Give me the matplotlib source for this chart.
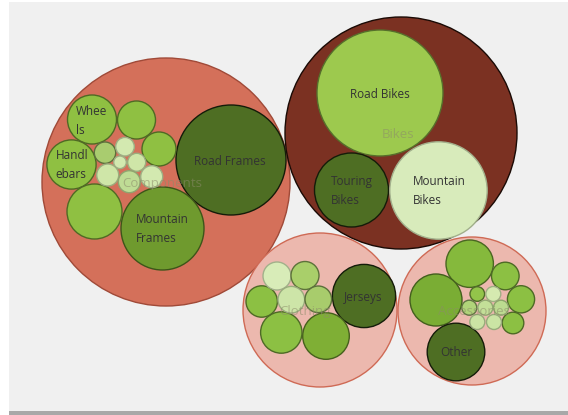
import matplotlib.pyplot as plt
import matplotlib.colors as mcolors
from matplotlib.patches import Circle, Rectangle

# parent circles (pixel layout of the packed chart)
groups = ["Components", "Bikes", "Clothing", "Accessories"]
group_x = [166, 401, 320, 472]
group_y = [182, 133, 310, 311]
group_r = [124, 116, 77, 74]
group_fill = ["#d4705a", "#7b3122", "#ecb8ae", "#ecb8ae"]
group_edge = ["#a04a38", "#1a0a05", "#cf6a55", "#cf6a55"]
group_lab_x = [162, 398, 305, 474]
group_lab_y = [183, 134, 311, 311]

# child circles
child_x = [231, 162.5, 92, 136.5, 71.5, 159, 94.5, 105, 125, 120, 136.7, 107.7, 129.3, 151.7,
           380, 351.5, 438.5,
           364, 326, 281.3, 261.7, 277, 305, 291.3, 318.3,
           469.7, 436, 456, 505.3, 521, 513, 477.3, 493.3, 469.3, 485.3, 501, 477.3, 494]
child_y = [160, 228.5, 119.5, 120, 164.5, 149, 211.5, 152.7, 146.7, 162.3, 162.3, 175, 181.7, 176.7,
           93, 190, 190.5,
           296, 336, 332.5, 301.5, 276, 275.5, 299.7, 299.3,
           263.7, 300, 352, 276, 299.3, 323, 294, 294, 307.7, 307.7, 307.7, 322, 322]
child_r = [55, 41.5, 24.5, 19, 24.6, 17, 27.5, 10.7, 9.3, 6.3, 9, 11, 11, 11,
           63, 37, 48.7,
           31.6, 23.3, 20.7, 15.7, 14, 14, 13.3, 13.3,
           23.7, 26, 28.8, 13.8, 13.6, 10.8, 7.3, 7.5, 7.5, 7.5, 7.5, 7.5, 7.5]
child_col = ["#4e6e23", "#6f9a2e", "#8fc042", "#8fc042", "#8fc042", "#8fc042", "#8fc042",
             "#a9cc6f", "#d3e9b0", "#d3e9b0", "#cfe6a8", "#cfe6a8", "#bfdc95", "#d3e9b0",
             "#9dc94e", "#4e6e23", "#d8ebbb",
             "#4e6e23", "#7faf35", "#8cc043", "#8cc043", "#d8ecb8", "#a9cf6a", "#cde5a8", "#a8cc6c",
             "#85b93c", "#7aad34", "#4e6e23", "#8cc043", "#8cc043", "#8cc043",
             "#93c44a", "#d5eab0", "#b0d47a", "#c3df98", "#bcdb90", "#cbe4a4", "#cbe4a4"]

# child labels
labels = ["Road Frames", "Mountain\nFrames", "Whee\nls", "Handl\nebars",
          "Road Bikes", "Touring\nBikes", "Mountain\nBikes", "Jerseys", "Other"]
label_x = [230, 162, 92, 72, 380, 352, 439, 363, 456]
label_y = [161, 229, 121, 165, 95, 191, 191, 297, 352]


def darken(c, f):
    r, g, b = mcolors.to_rgb(c)
    return (r * f, g * f, b * f)


fig = plt.figure(figsize=(5.68, 4.15), dpi=100)
ax = fig.add_axes([0, 0, 1, 1])
ax.set_xlim(0, 568)
ax.set_ylim(415, 0)
ax.axis("off")

# background panel
ax.add_patch(Rectangle((9, 2), 560, 409, facecolor="#f0f0f0", edgecolor="none", zorder=0))
ax.add_patch(Rectangle((9, 411), 560, 5, facecolor="#a8a8a8", edgecolor="none", zorder=0))

for i in range(len(groups)):
    ax.add_patch(Circle((group_x[i], group_y[i]), group_r[i], facecolor=group_fill[i],
                        edgecolor=group_edge[i], linewidth=1.0, zorder=1))

for i in range(len(child_x)):
    col = child_col[i]
    lum = sum(mcolors.to_rgb(col)) / 3
    edge = darken(col, 0.25) if lum < 0.4 else darken(col, 0.55 if lum < 0.7 else 0.75)
    ax.add_patch(Circle((child_x[i], child_y[i]), child_r[i], facecolor=col,
                        edgecolor=edge, linewidth=1.0, zorder=2))

for i in range(len(labels)):
    ax.text(label_x[i], label_y[i], labels[i], ha="center", va="center", multialignment="left",
            fontsize=8.5, color="#333333", linespacing=1.55, family="Open Sans", zorder=4)

for i in range(len(groups)):
    ax.text(group_lab_x[i], group_lab_y[i], groups[i], ha="center", va="center",
            fontsize=9.5, color="#8c8c6a", alpha=0.55, family="Open Sans", zorder=5)

fig.savefig("out.png", dpi=100)
